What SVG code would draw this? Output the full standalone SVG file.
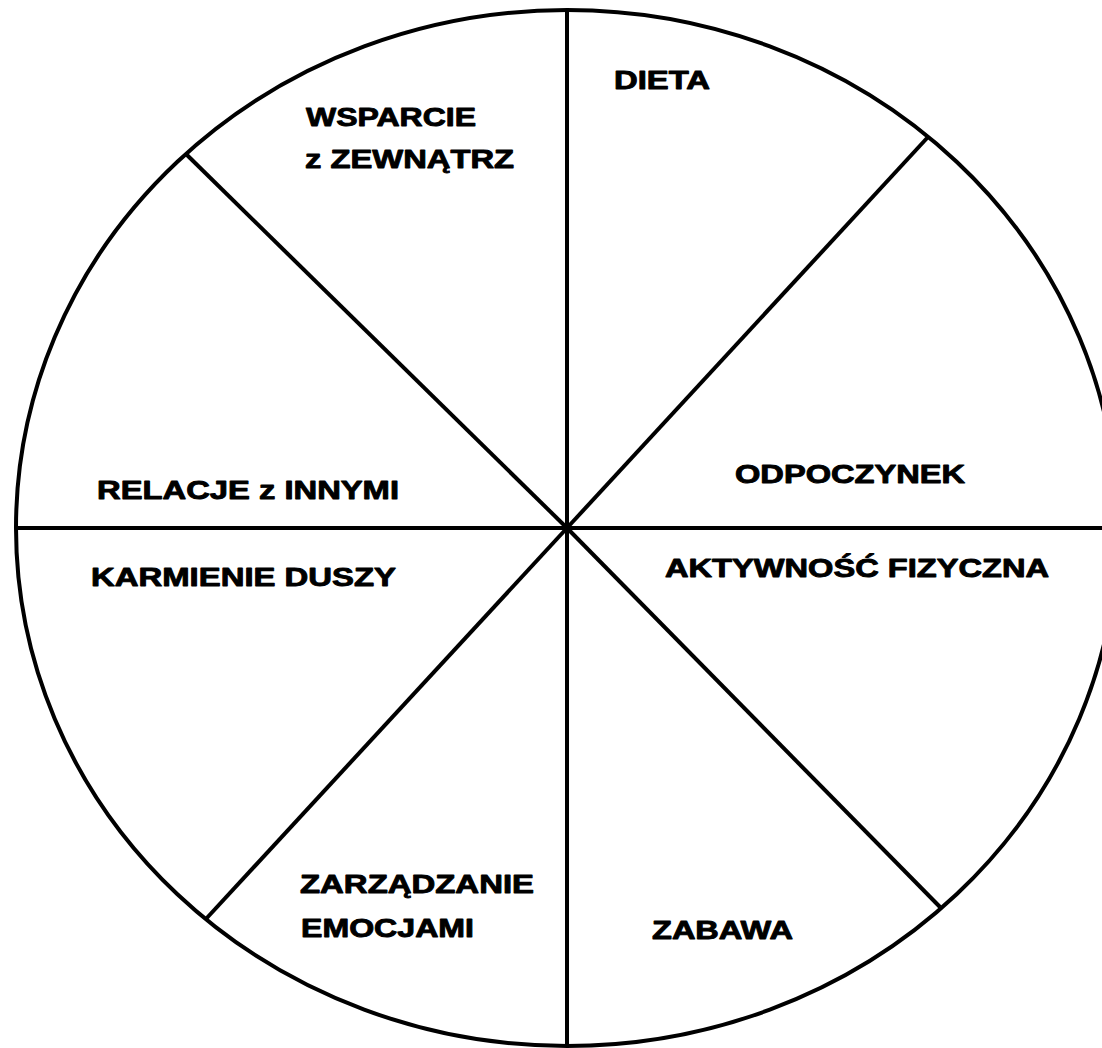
<svg xmlns="http://www.w3.org/2000/svg" width="1102" height="1048" viewBox="0 0 1102 1048">
<style>
.ln{stroke:#000;stroke-width:4;fill:none;stroke-linecap:butt}
.t{font-family:"Liberation Sans",Arial,sans-serif;font-weight:bold;font-size:25.5px;fill:#000;stroke:#000;stroke-width:0.9;stroke-linejoin:round}
</style>
<rect width="1102" height="1048" fill="#fff"/>
<g id="connectors">
<ellipse class="ln" cx="567" cy="528" rx="551" ry="518"/>
<line class="ln" x1="567" y1="10" x2="567" y2="1046"/>
<line class="ln" x1="16" y1="528" x2="1102" y2="528"/>
<line class="ln" x1="187" y1="155" x2="567" y2="528"/>
<line class="ln" x1="928" y1="137" x2="567" y2="528"/>
<line class="ln" x1="205" y1="920" x2="567" y2="528"/>
<line class="ln" x1="940" y1="907" x2="567" y2="528"/>
</g>
<g id="n-dieta"><text class="t" x="614" y="89" textLength="96" lengthAdjust="spacingAndGlyphs">DIETA</text></g>
<g id="n-wsparcie"><text class="t" x="306" y="126" textLength="170" lengthAdjust="spacingAndGlyphs">WSPARCIE</text><text class="t" x="305" y="168" textLength="209" lengthAdjust="spacingAndGlyphs">z ZEWNĄTRZ</text></g>
<g id="n-relacje"><text class="t" x="97" y="499" textLength="302" lengthAdjust="spacingAndGlyphs">RELACJE z INNYMI</text></g>
<g id="n-odpoczynek"><text class="t" x="735" y="483" textLength="230" lengthAdjust="spacingAndGlyphs">ODPOCZYNEK</text></g>
<g id="n-karmienie"><text class="t" x="91" y="586" textLength="305" lengthAdjust="spacingAndGlyphs">KARMIENIE DUSZY</text></g>
<g id="n-aktywnosc"><text class="t" x="665" y="577" textLength="384" lengthAdjust="spacingAndGlyphs">AKTYWNOŚĆ FIZYCZNA</text></g>
<g id="n-zarzadzanie"><text class="t" x="300" y="893" textLength="234" lengthAdjust="spacingAndGlyphs">ZARZĄDZANIE</text><text class="t" x="301" y="937" textLength="173" lengthAdjust="spacingAndGlyphs">EMOCJAMI</text></g>
<g id="n-zabawa"><text class="t" x="652" y="939" textLength="141" lengthAdjust="spacingAndGlyphs">ZABAWA</text></g>
</svg>
